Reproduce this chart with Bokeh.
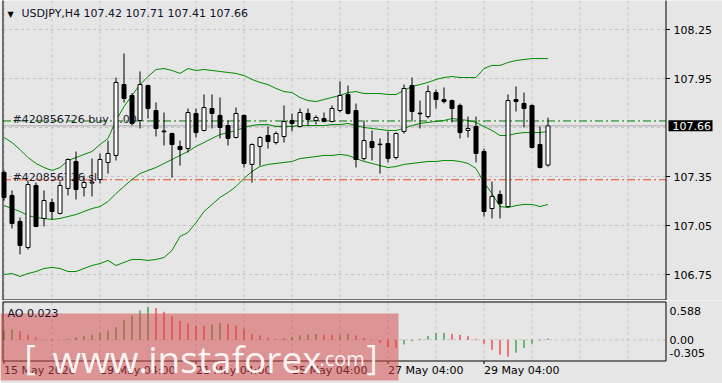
from bokeh.plotting import figure
from bokeh.models import ColumnDataSource, Range1d
from bokeh.layouts import column
from bokeh.embed import file_html
from bokeh.resources import INLINE
from bokeh.core.properties import value

# ---------------- data ----------------
symbol = "USDJPY,H4"

opens = [
    107.375, 107.234, 107.075, 106.915, 107.295,
    107.093, 107.191, 107.124, 107.277, 107.442,
    107.283, 107.310, 107.332, 107.436, 107.479,
    107.913, 107.846, 107.693, 107.907, 107.754,
    107.628, 107.613, 107.534, 107.521, 107.736,
    107.632, 107.766, 107.724, 107.662, 107.589,
    107.724, 107.424, 107.534, 107.601, 107.558,
    107.595, 107.693, 107.656, 107.736, 107.693,
    107.705, 107.687, 107.754, 107.852, 107.754,
    107.460, 107.564, 107.548, 107.552, 107.466,
    107.626, 107.907, 107.738, 107.717, 107.864,
    107.821, 107.815, 107.785, 107.632, 107.656,
    107.503, 107.154, 107.240, 107.166, 107.821,
    107.797, 107.785, 107.546, 107.42,
]
highs = [
    107.387, 107.264, 107.099, 107.326, 107.313,
    107.264, 107.215, 107.319, 107.460, 107.503,
    107.356, 107.460, 107.491, 107.570, 107.956,
    108.103, 107.860, 107.993, 107.913, 107.803,
    107.742, 107.619, 107.570, 107.766, 107.766,
    107.852, 107.852, 107.834, 107.693, 107.772,
    107.730, 107.552, 107.595, 107.656, 107.626,
    107.785, 107.736, 107.766, 107.766, 107.724,
    107.742, 107.785, 107.932, 107.907, 107.797,
    107.693, 107.632, 107.583, 107.626, 107.620,
    107.913, 107.956, 107.815, 107.907, 107.883,
    107.895, 107.821, 107.797, 107.717, 107.717,
    107.521, 107.319, 107.264, 107.852, 107.901,
    107.864, 107.790, 107.656, 107.71,
]
lows = [
    107.203, 107.032, 106.873, 106.903, 107.040,
    107.044, 107.087, 107.118, 107.234, 107.209,
    107.228, 107.228, 107.307, 107.368, 107.448,
    107.803, 107.662, 107.644, 107.705, 107.595,
    107.540, 107.344, 107.417, 107.497, 107.589,
    107.626, 107.644, 107.583, 107.540, 107.583,
    107.405, 107.313, 107.417, 107.521, 107.546,
    107.558, 107.626, 107.650, 107.656, 107.668,
    107.681, 107.681, 107.742, 107.730, 107.405,
    107.448, 107.448, 107.368, 107.436, 107.454,
    107.613, 107.687, 107.644, 107.705, 107.766,
    107.797, 107.681, 107.583, 107.589, 107.436,
    107.105, 107.093, 107.093, 107.160, 107.748,
    107.650, 107.521, 107.399, 107.41,
]
closes = [
    107.222, 107.062, 106.928, 107.301, 107.044,
    107.203, 107.136, 107.295, 107.454, 107.270,
    107.313, 107.316, 107.454, 107.491, 107.926,
    107.828, 107.675, 107.913, 107.766, 107.644,
    107.624, 107.546, 107.515, 107.742, 107.619,
    107.772, 107.736, 107.650, 107.583, 107.736,
    107.430, 107.546, 107.589, 107.564, 107.613,
    107.687, 107.675, 107.742, 107.699, 107.711,
    107.687, 107.766, 107.846, 107.736, 107.454,
    107.570, 107.528, 107.545, 107.460, 107.613,
    107.889, 107.748, 107.734, 107.870, 107.821,
    107.809, 107.766, 107.619, 107.644, 107.491,
    107.136, 107.228, 107.185, 107.815, 107.809,
    107.766, 107.528, 107.405, 107.66,
]
bb_upper = [
    107.589, 107.558, 107.515, 107.466, 107.430,
    107.405, 107.387, 107.405, 107.448, 107.466,
    107.485, 107.503, 107.546, 107.583, 107.693,
    107.778, 107.846, 107.913, 107.962, 108.005,
    108.011, 107.999, 107.981, 108.011, 107.999,
    108.005, 107.999, 107.993, 107.987, 107.981,
    107.968, 107.944, 107.926, 107.913, 107.889,
    107.870, 107.864, 107.834, 107.815, 107.809,
    107.821, 107.834, 107.846, 107.864, 107.870,
    107.858, 107.858, 107.858, 107.852, 107.852,
    107.877, 107.901, 107.913, 107.926, 107.944,
    107.956, 107.962, 107.956, 107.956, 107.956,
    108.011, 108.030, 108.030, 108.048, 108.060,
    108.066, 108.072, 108.072, 108.072,
]
bb_middle = [
    107.172, 107.154, 107.136, 107.111, 107.099,
    107.093, 107.087, 107.093, 107.105, 107.117,
    107.136, 107.154, 107.166, 107.197, 107.246,
    107.289, 107.332, 107.368, 107.387, 107.405,
    107.430, 107.454, 107.479, 107.503, 107.534,
    107.558, 107.583, 107.607, 107.619, 107.632,
    107.650, 107.662, 107.668, 107.668, 107.656,
    107.656, 107.656, 107.662, 107.662, 107.662,
    107.662, 107.668, 107.668, 107.675, 107.662,
    107.650, 107.644, 107.638, 107.632, 107.632,
    107.644, 107.662, 107.675, 107.681, 107.687,
    107.693, 107.705, 107.699, 107.693, 107.681,
    107.656, 107.632, 107.601, 107.601, 107.613,
    107.619, 107.619, 107.619, 107.626,
]
bb_lower = [
    106.750, 106.756, 106.738, 106.756, 106.768,
    106.787, 106.793, 106.787, 106.768, 106.768,
    106.787, 106.805, 106.817, 106.836, 106.805,
    106.824, 106.842, 106.842, 106.836, 106.842,
    106.854, 106.897, 106.983, 107.007, 107.068,
    107.136, 107.179, 107.222, 107.252, 107.289,
    107.338, 107.381, 107.411, 107.424, 107.430,
    107.436, 107.442, 107.460, 107.466, 107.472,
    107.479, 107.479, 107.485, 107.479, 107.460,
    107.442, 107.430, 107.417, 107.405, 107.411,
    107.424, 107.430, 107.436, 107.442, 107.442,
    107.448, 107.448, 107.442, 107.430, 107.399,
    107.313, 107.246, 107.166, 107.160, 107.172,
    107.179, 107.179, 107.166, 107.179,
]
ao = [
    0.170, 0.182, 0.155, 0.090, 0.048,
    0.004, -0.010, 0.002, 0.018, 0.048,
    0.066, 0.089, 0.120, 0.166, 0.227,
    0.357, 0.434, 0.523, 0.588, 0.565,
    0.500, 0.418, 0.336, 0.295, 0.253,
    0.250, 0.271, 0.300, 0.289, 0.254,
    0.195, 0.106, 0.077, 0.040, 0.018,
    0.030, 0.053, 0.080, 0.098, 0.104,
    0.095, 0.089, 0.094, 0.107, 0.077,
    0.036, -0.008, -0.059, -0.130, -0.140,
    -0.084, -0.024, 0.018, 0.070, 0.119,
    0.125, 0.107, 0.089, 0.066, 0.018,
    -0.071, -0.179, -0.268, -0.305, -0.232,
    -0.148, -0.071, -0.015, 0.023,
]

date_ticks = [0, 12, 24, 36, 48, 60]
date_labels = ["15 May 2020", "19 May 04:00", "21 May 04:00",
               "25 May 04:00", "27 May 04:00", "29 May 04:00"]
day_grid = [0, 6, 12, 18, 24, 30, 36, 42, 48, 54, 60, 66, 72, 78]
price_grid = [108.25, 107.95, 107.65, 107.35, 107.05, 106.75]
price_axis_ticks = [108.25, 107.95, 107.35, 107.05, 106.75]
ao_ticks = [0.588, 0.0, -0.305]
ao_tick_labels = ["0.588", "0.00", "-0.305"]
ao_tick_baselines = ["top", "middle", "bottom"]
order_ticket = "420856726"
order_lots = "1.00"
order_buy_price = 107.69
order_sl_price = 107.33
bid_price = 107.66

# ---------------- layout constants (page pixels) ----------------
BG = "#E6E6E6"
GRID = "#C4C4C4"
FONT = "DejaVu Sans"
FS = "11px"
W = 722
BAR_PX = 8.0
BAR0_PX = 3.5                    # centre of bar 0
PX_PER_PRICE = 245.0 / 1.5
PRICE_REF, PRICE_REF_PY = 108.25, 29.0
AO_ZERO_PY = 339.3
AO_PX = 56.0
MAIN_H, AO_H = 300, 83
# panel frames (pixel centres of the border lines); main top border lies above the page
M_L, M_R, M_T, M_B = 2.5, 665.5, -1.0, 299.5
A_T, A_B = 301.5, 360.5


def xd(px):                      # data x for page pixel x
    return (px - BAR0_PX) / BAR_PX


def pd(py):                      # price for page pixel y (main panel)
    return PRICE_REF - (py - PRICE_REF_PY) / PX_PER_PRICE


def ad(py):                      # AO value for page pixel y (AO panel)
    return (AO_ZERO_PY - py) / AO_PX


n = len(opens)
xs = list(range(n))
src = ColumnDataSource(dict(
    x=xs, h=highs, l=lows,
    bt=[max(a, b) for a, b in zip(opens, closes)],
    bb=[min(a, b) for a, b in zip(opens, closes)],
    fill=["white" if c >= o else "black" for o, c in zip(opens, closes)],
))

x_range = Range1d(xd(0), xd(W))


def base_fig(height, y0, y1):
    f = figure(width=W, height=height, output_backend="svg", toolbar_location=None,
               x_range=x_range, y_range=Range1d(y0, y1),
               x_axis_location=None, y_axis_location=None,
               min_border=0, min_border_left=0, min_border_right=0,
               min_border_top=0, min_border_bottom=0,
               background_fill_color=BG, border_fill_color=BG,
               outline_line_color=None)
    f.grid.visible = False
    return f


# ---------------- main price panel ----------------
main = base_fig(MAIN_H, pd(MAIN_H), pd(0))

# grid
main.segment(x0=day_grid, y0=[pd(0)] * len(day_grid), x1=day_grid, y1=[pd(M_B)] * len(day_grid),
             line_color=GRID, line_width=1, line_dash="3 3")
main.segment(x0=[xd(M_L)] * len(price_grid), y0=price_grid,
             x1=[xd(M_R)] * len(price_grid), y1=price_grid,
             line_color=GRID, line_width=1, line_dash="3 3")

# bid line and order lines
main.segment(x0=[xd(M_L)], y0=[bid_price], x1=[xd(M_R)], y1=[bid_price],
             line_color="#A8A8A8", line_width=1)
main.segment(x0=[xd(M_L)], y0=[order_buy_price], x1=[xd(M_R)], y1=[order_buy_price],
             line_color="#007A00", line_width=1, line_dash="8 3 2 3")
main.segment(x0=[xd(M_L)], y0=[order_sl_price], x1=[xd(M_R)], y1=[order_sl_price],
             line_color="#E8501E", line_width=1, line_dash="8 3 2 3")
main.text(x=[xd(12), xd(12)], y=[pd(119), pd(177)],
          text=[f"#{order_ticket} buy {order_lots}", f"#{order_ticket} sl"],
          text_font=value(FONT), text_font_size=value(FS), text_color="#1E1E30",
          text_align="left", text_baseline="alphabetic")

# Bollinger bands
for band in (bb_upper, bb_middle, bb_lower):
    main.line(xs, band, line_color="#008C00", line_width=1)

# candles
main.segment(x0="x", y0="h", x1="x", y1="l", source=src, line_color="black", line_width=1)
main.vbar(x="x", width=0.5, top="bt", bottom="bb", source=src,
          fill_color="fill", line_color="black", line_width=1)

# frame
main.quad(left=[xd(M_L)], right=[xd(M_R)], top=[pd(M_T)], bottom=[pd(M_B)],
          fill_color=None, line_color="black", line_width=1)

# price scale
main.segment(x0=[xd(M_R)] * len(price_axis_ticks), y0=price_axis_ticks,
             x1=[xd(M_R + 4)] * len(price_axis_ticks), y1=price_axis_ticks,
             line_color="black", line_width=1)
main.text(x=[xd(673)] * len(price_axis_ticks), y=price_axis_ticks,
          text=[f"{t:.2f}" for t in price_axis_ticks],
          text_font=value(FONT), text_font_size=value(FS), text_color="black",
          text_align="left", text_baseline="middle")
# current price box
main.quad(left=[xd(668)], right=[xd(712)], top=[bid_price + 5.5 / PX_PER_PRICE],
          bottom=[bid_price - 5.5 / PX_PER_PRICE], fill_color="black", line_color=None)
main.text(x=[xd(672)], y=[bid_price], text=[f"{bid_price:.2f}"],
          text_font=value(FONT), text_font_size=value(FS), text_color="white",
          text_align="left", text_baseline="middle")

# title
main.text(x=[xd(7)], y=[pd(13.5)], text=["\u25BC"], text_font=value(FONT),
          text_font_size=value("8px"), text_color="black",
          text_align="left", text_baseline="middle")
title_text = f"{symbol}   {opens[-1]:.2f} {highs[-1]:.2f} {lows[-1]:.2f} {closes[-1]:.2f}"
main.text(x=[xd(21)], y=[pd(13)], text=[title_text], text_font=value(FONT),
          text_font_size=value(FS), text_color="#10102A",
          text_align="left", text_baseline="middle")

# ---------------- AO panel (page rows 300..382) ----------------
aof = base_fig(AO_H, ad(MAIN_H + AO_H), ad(MAIN_H))

ao_colors = ["#008000" if (i == 0 or ao[i] > ao[i - 1]) else "#FF0000" for i in range(n)]
ao_src = ColumnDataSource(dict(x=xs, zero=[0.0] * n, v=ao, color=ao_colors))

aof.segment(x0=day_grid, y0=[ad(A_T)] * len(day_grid), x1=day_grid, y1=[ad(A_B)] * len(day_grid),
            line_color=GRID, line_width=1, line_dash="3 3")
aof.segment(x0=[xd(M_L)], y0=[0.0], x1=[xd(M_R)], y1=[0.0],
            line_color=GRID, line_width=1, line_dash="3 3")

aof.segment(x0="x", y0="zero", x1="x", y1="v", source=ao_src, line_color="color", line_width=1)

aof.quad(left=[xd(M_L)], right=[xd(M_R)], top=[ad(A_T)], bottom=[ad(A_B)],
         fill_color=None, line_color="black", line_width=1)

# AO scale
aof.text(x=[xd(669)] * len(ao_ticks), y=ao_ticks, text=ao_tick_labels,
         text_font=value(FONT), text_font_size=value(FS), text_color="black",
         text_align="left", text_baseline=ao_tick_baselines)

# time scale
aof.segment(x0=date_ticks, y0=[ad(A_B)] * len(date_ticks),
            x1=date_ticks, y1=[ad(A_B + 3)] * len(date_ticks),
            line_color="black", line_width=1)
aof.text(x=date_ticks, y=[ad(370)] * len(date_ticks), text=date_labels,
         text_font=value(FONT), text_font_size=value(FS), text_color="black",
         text_align="left", text_baseline="middle")

# watermark
aof.quad(left=[xd(0)], right=[xd(398)], top=[ad(313)], bottom=[ad(380)],
         fill_color="#D44848", fill_alpha=0.52, line_color=None)
WM_FONT = "Open Sans"
for txt, px, py, size in (("[", 24, 356, "34px"), ("www.instaforex", 52, 358, "37px"),
                          (".com", 319, 358, "20px"), ("]", 366, 356, "34px")):
    aof.text(x=[xd(px)], y=[ad(py)], text=[txt], text_font=value(WM_FONT),
             text_font_size=value(size), text_color="white", text_alpha=0.92,
             text_align="left", text_baseline="alphabetic")

aof.text(x=[xd(7)], y=[ad(313)], text=[f"AO {ao[-1]:.3f}"], text_font=value(FONT),
         text_font_size=value(FS), text_color="#10102A",
         text_align="left", text_baseline="middle")

layout = column(main, aof, spacing=0)
open("out.html", "w").write(file_html(layout, INLINE))
